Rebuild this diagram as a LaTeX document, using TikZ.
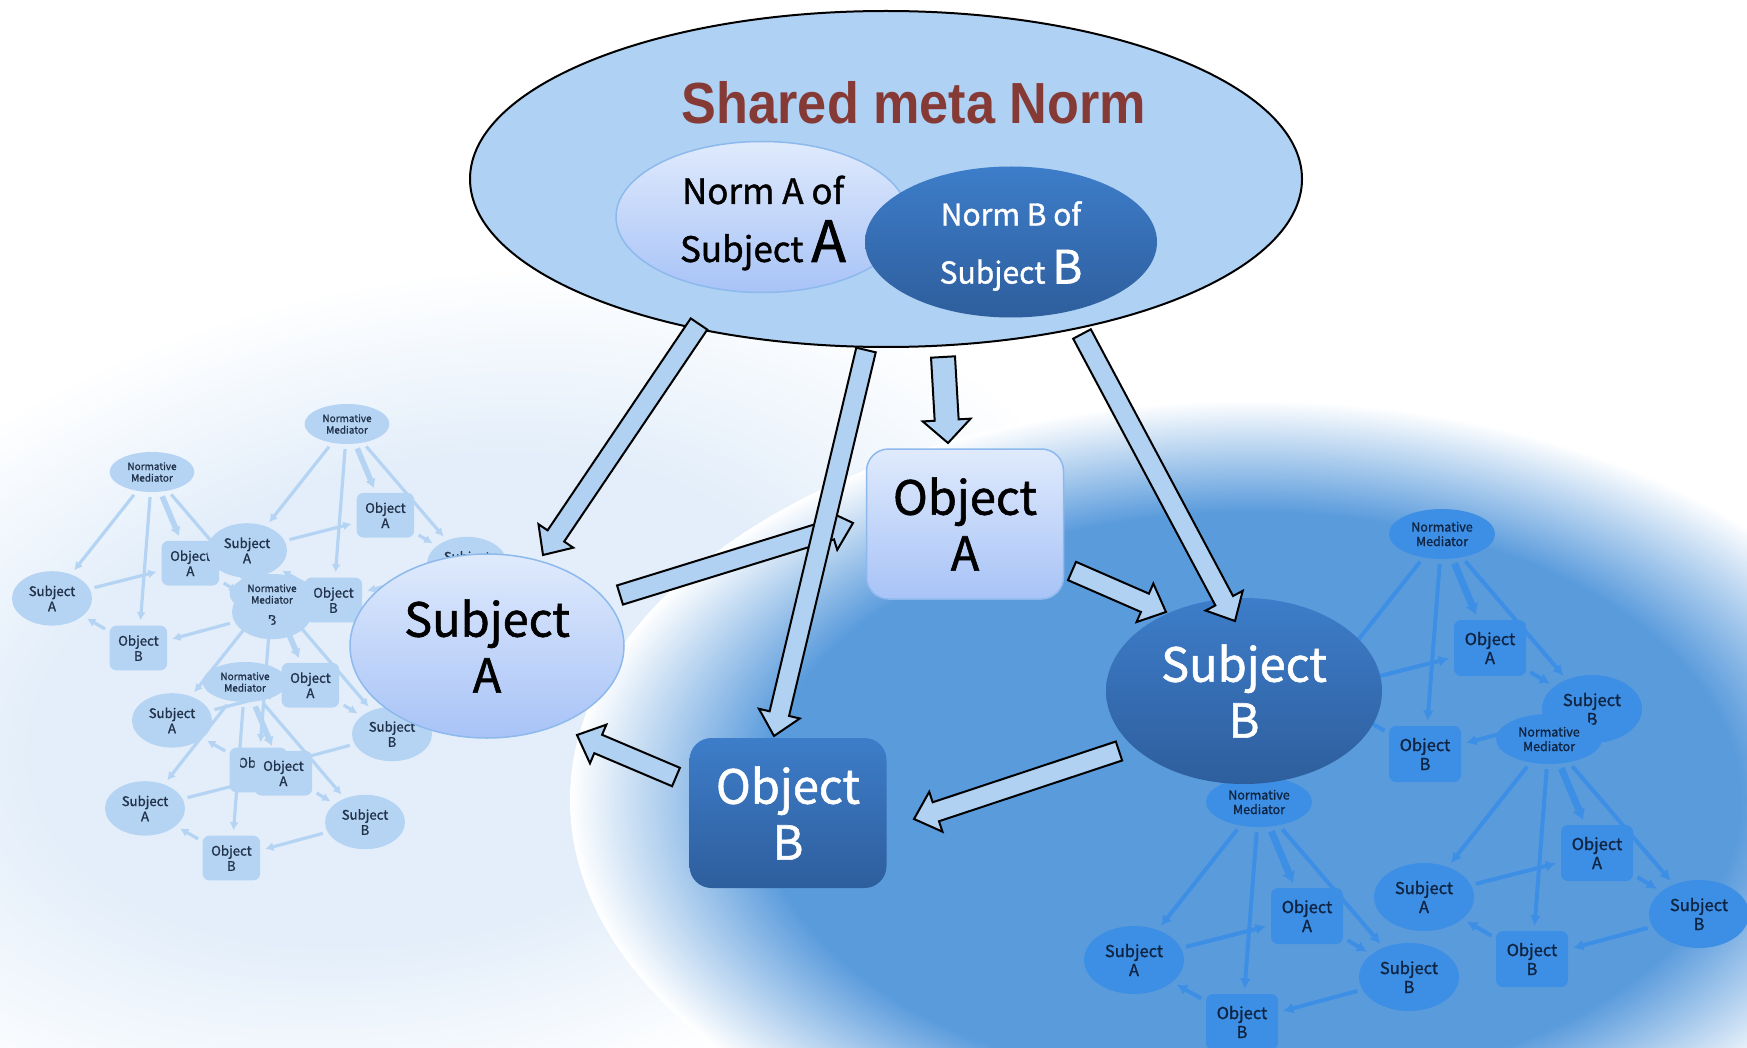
\documentclass[tikz,border=0pt]{standalone}
\usepackage{fontspec}
\setmainfont{Noto Sans CJK JP}[FakeBold=1.2]
\newfontfamily\titlefont[FakeStretch=0.9]{Liberation Sans}
\usetikzlibrary{calc,arrows.meta,shapes.geometric}

\definecolor{topfill}{HTML}{AFD1F3}
\definecolor{arrowfill}{HTML}{B0D1F2}
\definecolor{titlecol}{HTML}{863A36}
\definecolor{lightTop}{HTML}{DFEAFC}
\definecolor{lightBot}{HTML}{A8C3F7}
\definecolor{lightBorder}{HTML}{8DB9EC}
\definecolor{darkTop}{HTML}{3D7DC9}
\definecolor{darkBot}{HTML}{2E5E9D}
\definecolor{rblob}{HTML}{5A9BDC}
\definecolor{lblob}{HTML}{E3EEFA}
\definecolor{rnode}{HTML}{3D8FE5}
\definecolor{rtext}{HTML}{0E2442}
\definecolor{lnode}{HTML}{B5D4F3}
\definecolor{ltext}{HTML}{22324A}

\pgfdeclareradialshading{lblobsh}{\pgfpointorigin}{color(0bp)=(lblob); color(14bp)=(lblob); color(25bp)=(white); color(50bp)=(white)}
\pgfdeclareradialshading{rblobsh}{\pgfpointorigin}{color(0bp)=(rblob); color(18bp)=(rblob); color(25bp)=(white); color(50bp)=(white)}

\tikzset{
  bignode/.style={font=\fontsize{47}{56}\selectfont, align=center, inner sep=0pt},
  lightnode/.style={top color=lightTop, bottom color=lightBot, draw=lightBorder, line width=1.5pt},
  darknode/.style={top color=darkTop, bottom color=darkBot, text=white},
  bigarrow/.style={fill=arrowfill, draw=black, line width=2pt, line join=miter},
  mnodeR/.style={fill=rnode, text=rtext, inner sep=1pt, align=center, font=\fontsize{16.5}{19}\selectfont},
  mnodeL/.style={fill=lnode, text=ltext, inner sep=1pt, align=center, font=\fontsize{16.5}{19}\selectfont},
  mlineR/.style={draw=rnode, shorten >=5pt, shorten <=5pt},
  mlineL/.style={draw=lnode, shorten >=5pt, shorten <=5pt},
  mtip/.style={-{Latex[length=0pt 2.6, width=0pt 2.8]}},
  mtipthick/.style={-{Latex[length=0pt 1.6, width=0pt 2]}},
  nmfont/.style={font=\fontsize{12.5}{14.5}\selectfont}
}

% #1 prefix, #2 position of mediator, #3 scale, #4 L or R
\newcommand{\minigraph}[4]{%
\begin{scope}[shift={(#2)}, scale=#3, transform shape]
  \node[mnode#4, nmfont, ellipse, minimum width=106, minimum height=50] (#1nm) at (0,0) {Normative\\Mediator};
  \node[mnode#4, rounded corners=7, minimum width=72, minimum height=56] (#1oa) at (48,114) {Object\\A};
  \node[mnode#4, ellipse, minimum width=100, minimum height=68] (#1sa) at (-125,158) {Subject\\A};
  \node[mnode#4, ellipse, minimum width=100, minimum height=68] (#1sb) at (150,175) {Subject\\B};
  \node[mnode#4, rounded corners=7, minimum width=72, minimum height=56] (#1ob) at (-17,220) {Object\\B};
  \draw[mline#4, mtip, line width=#3*4pt] (#1nm) -- (#1sa);
  \draw[mline#4, mtip, line width=#3*4pt] (#1nm) -- (#1ob);
  \draw[mline#4, mtipthick, line width=#3*7pt] (#1nm) -- (#1oa);
  \draw[mline#4, mtip, line width=#3*4pt] (#1nm) -- (#1sb);
  \draw[mline#4, mtip, line width=#3*4pt] (#1sa) -- (#1oa);
  \draw[mline#4, mtip, line width=#3*4pt] (#1oa) -- (#1sb);
  \draw[mline#4, mtip, line width=#3*4pt] (#1sb) -- (#1ob);
  \draw[mline#4, mtip, line width=#3*4pt] (#1ob) -- (#1sa);
\end{scope}}

% #1 tail, #2 tip, #3 shaft half width, #4 head half width, #5 head length
\newcommand{\mybarrow}[5]{%
  \draw[bigarrow] ($(#1)!#3!90:(#2)$)
    -- ($($(#2)!#5!(#1)$)!#3!90:(#2)$)
    -- ($($(#2)!#5!(#1)$)!#4!90:(#2)$)
    -- (#2)
    -- ($($(#2)!#5!(#1)$)!#4!-90:(#2)$)
    -- ($($(#2)!#5!(#1)$)!#3!-90:(#2)$)
    -- ($(#1)!#3!-90:(#2)$) -- cycle;}

\begin{document}
\begin{tikzpicture}[x=1pt,y=-1pt]
\useasboundingbox (0,0) rectangle (1747,1048);
\clip (0,0) rectangle (1747,1048);
\fill[white] (0,0) rectangle (1747,1048);

% background blobs
\begin{scope}[transform canvas={rotate around={12:(420,700)}}]
  \shade[shading=lblobsh] (420,700) ellipse [x radius=700, y radius=420];
\end{scope}
\shade[shading=rblobsh] (1250,800) ellipse [x radius=680, y radius=400];

% background mini graphs
\minigraph{L1}{152,472}{0.8}{L}
\minigraph{L2}{347,424}{0.8}{L}
\minigraph{L3}{272,594}{0.8}{L}
\minigraph{L4}{245,682}{0.8}{L}
\minigraph{R1}{1442,534}{1}{R}
\minigraph{R2}{1549,739}{1}{R}
\minigraph{R3}{1259,802}{1}{R}

% shared meta norm
\node[ellipse, fill=topfill, draw=black, line width=2pt, minimum width=832, minimum height=336, inner sep=0pt] (meta) at (886,179) {};
\node[font=\titlefont\bfseries\fontsize{58}{60}\selectfont, text=titlecol, inner sep=0pt] (title) at (914,103) {Shared meta Norm};
\node[ellipse, lightnode, minimum width=292, minimum height=151, inner sep=0pt] (normA) at (762,217) {};
\node[align=center, font=\fontsize{35}{58}\selectfont, inner sep=0pt] (normAtext) at (763,223) {Norm A of\\Subject {\fontsize{57}{58}\selectfont A}};
\node[ellipse, darknode, minimum width=292, minimum height=151, inner sep=0pt] (normB) at (1011,242) {};
\node[align=center, text=white, font=\fontsize{30}{58}\selectfont, inner sep=0pt] (normBtext) at (1011,246) {Norm B of\\Subject {\fontsize{46}{58}\selectfont B}};

% main nodes
\node[bignode, lightnode, ellipse, minimum width=274, minimum height=184] (subA) at (487,646) {Subject\\A};
\node[bignode, lightnode, rounded corners=22, minimum width=197, minimum height=150] (objA) at (965,524) {Object\\A};
\node[bignode, darknode, ellipse, minimum width=276, minimum height=186] (subB) at (1244,691) {Subject\\B};
\node[bignode, darknode, rounded corners=22, minimum width=197, minimum height=150] (objB) at (788,813) {Object\\B};

% arrow end points
\coordinate (a1t) at (699,324);  \coordinate (a1h) at (543,555);
\coordinate (a2t) at (866,350);  \coordinate (a2h) at (774,736);
\coordinate (a3t) at (943,357);  \coordinate (a3h) at (948,443);
\coordinate (a4t) at (1082,334); \coordinate (a4h) at (1235,621);
\coordinate (a5t) at (620,595);  \coordinate (a5h) at (853,523);
\coordinate (a6t) at (1072,571); \coordinate (a6h) at (1166,612);
\coordinate (a7t) at (1119,751); \coordinate (a7h) at (914,819);
\coordinate (a8t) at (676,777);  \coordinate (a8h) at (577,735);

\mybarrow{a1t}{a1h}{10pt}{21pt}{23pt}
\mybarrow{a5t}{a5h}{10pt}{21pt}{23pt}
\mybarrow{a2t}{a2h}{10pt}{21pt}{23pt}
\mybarrow{a3t}{a3h}{12pt}{24pt}{23pt}
\mybarrow{a4t}{a4h}{10pt}{21pt}{23pt}
\mybarrow{a6t}{a6h}{10pt}{21pt}{23pt}
\mybarrow{a7t}{a7h}{10pt}{21pt}{23pt}
\mybarrow{a8t}{a8h}{10pt}{21pt}{23pt}
\end{tikzpicture}
\end{document}
